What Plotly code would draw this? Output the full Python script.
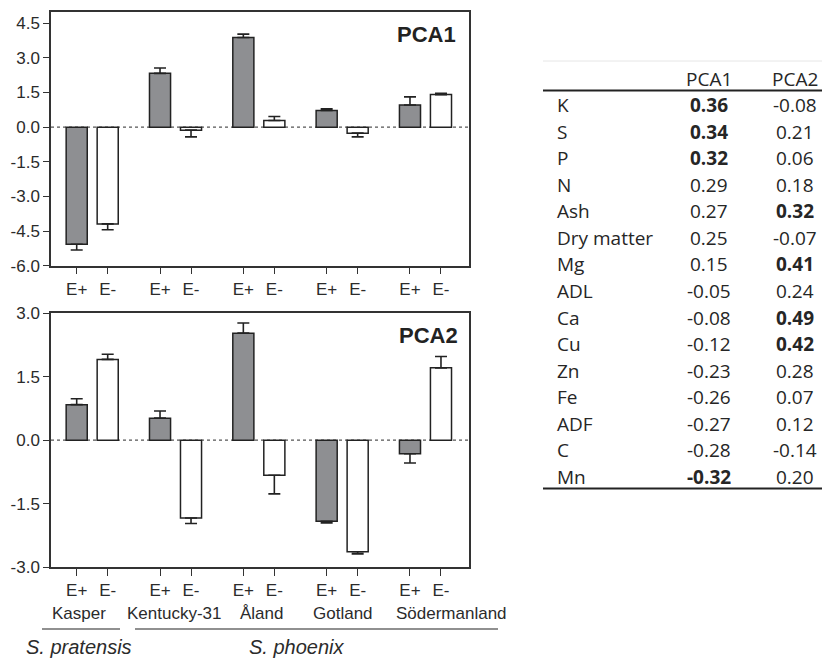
import plotly.graph_objects as go

# ---------------- data ----------------
groups = ["Kasper", "Kentucky-31", "Åland", "Gotland", "Södermanland"]
treatments = ["E+", "E-"]

pca1_eplus = [-5.07, 2.33, 3.88, 0.72, 0.96]
pca1_eplus_err = [0.25, 0.23, 0.15, 0.07, 0.35]
pca1_eminus = [-4.19, -0.13, 0.29, -0.26, 1.41]
pca1_eminus_err = [0.25, 0.29, 0.17, 0.16, 0.06]

pca2_eplus = [0.84, 0.52, 2.53, -1.92, -0.32]
pca2_eplus_err = [0.14, 0.17, 0.24, 0.04, 0.22]
pca2_eminus = [1.91, -1.84, -0.83, -2.64, 1.71]
pca2_eminus_err = [0.12, 0.13, 0.44, 0.05, 0.27]

pca1_ticks = [-6.0, -4.5, -3.0, -1.5, 0.0, 1.5, 3.0, 4.5]
pca2_ticks = [-3.0, -1.5, 0.0, 1.5, 3.0]

species = ["S. pratensis", "S. phoenix"]

table_vars = ["K", "S", "P", "N", "Ash", "Dry matter", "Mg", "ADL", "Ca", "Cu",
              "Zn", "Fe", "ADF", "C", "Mn"]
table_pca1 = ["0.36", "0.34", "0.32", "0.29", "0.27", "0.25", "0.15", "-0.05",
              "-0.08", "-0.12", "-0.23", "-0.26", "-0.27", "-0.28", "-0.32"]
table_pca2 = ["-0.08", "0.21", "0.06", "0.18", "0.32", "-0.07", "0.41", "0.24",
              "0.49", "0.42", "0.28", "0.07", "0.12", "-0.14", "0.20"]
bold_pca1 = [True, True, True, False, False, False, False, False,
             False, False, False, False, False, False, True]
bold_pca2 = [False, False, False, False, True, False, True, False,
             True, True, False, False, False, False, False]

# ---------------- layout constants ----------------
W, H = 840, 659
GROUP_STEP = 2.688
PAIR_STEP = 1.0
BAR_W = 0.68
X_RANGE = [-0.829, 12.656]
GRAY = "#8e8f92"
EDGE = "#222222"
TXT = "#2b2b2b"
FONT = "Liberation Sans, Arial, sans-serif"
TFONT = "Open Sans, Lato, sans-serif"


def px(xp):
    return xp / W


def py(yp):
    return 1 - yp / H


pos_eplus = [i * GROUP_STEP for i in range(len(groups))]
pos_eminus = [i * GROUP_STEP + PAIR_STEP for i in range(len(groups))]


def err_dict(vals, errs):
    up = [e if v >= 0 else 0 for v, e in zip(vals, errs)]
    dn = [e if v < 0 else 0 for v, e in zip(vals, errs)]
    return dict(type="data", symmetric=False, array=up, arrayminus=dn,
                color=EDGE, thickness=1.6, width=6)


fig = go.Figure()
panels = [
    ("x", "y", pca1_eplus, pca1_eplus_err, pca1_eminus, pca1_eminus_err),
    ("x2", "y2", pca2_eplus, pca2_eplus_err, pca2_eminus, pca2_eminus_err),
]
for xa, ya, ep, epe, em, eme in panels:
    fig.add_trace(go.Bar(x=pos_eplus, y=ep, width=BAR_W, xaxis=xa, yaxis=ya,
                         marker=dict(color=GRAY, line=dict(color=EDGE, width=1.5)),
                         error_y=err_dict(ep, epe), showlegend=False, name="E+"))
    fig.add_trace(go.Bar(x=pos_eminus, y=em, width=BAR_W, xaxis=xa, yaxis=ya,
                         marker=dict(color="white", line=dict(color=EDGE, width=1.5)),
                         error_y=err_dict(em, eme), showlegend=False, name="E-"))

tickpos = []
ticktxt = []
for a, b in zip(pos_eplus, pos_eminus):
    tickpos += [a, b]
    ticktxt += treatments

xcommon = dict(range=X_RANGE, tickvals=tickpos, ticktext=ticktxt, ticks="outside",
               ticklen=7, tickwidth=1.3, tickcolor="#333", showline=True, mirror=True,
               linecolor="#333", linewidth=1.5, showgrid=False, zeroline=False,
               automargin=False,
               tickfont=dict(family=FONT, size=17, color=TXT),
               domain=[px(51), px(469)])
ycommon = dict(ticks="outside", ticklen=6, tickwidth=1.3, tickcolor="#333",
               showline=True, mirror=True, linecolor="#333", linewidth=1.5,
               showgrid=False, zeroline=False, automargin=False,
               tickfont=dict(family=FONT, size=17, color=TXT))

fig.update_layout(
    width=W, height=H, margin=dict(l=0, r=0, t=0, b=0, pad=0, autoexpand=False),
    paper_bgcolor="white", plot_bgcolor="white", barmode="overlay",
    xaxis=dict(xcommon, anchor="y"),
    xaxis2=dict(xcommon, anchor="y2"),
    yaxis=dict(ycommon, range=[-6, 5], tickvals=pca1_ticks,
               ticktext=[f"{v:.1f}" for v in pca1_ticks],
               domain=[py(265.7), py(11.7)], anchor="x"),
    yaxis2=dict(ycommon, range=[-3, 3], tickvals=pca2_ticks,
                ticktext=[f"{v:.1f}" for v in pca2_ticks],
                domain=[py(567), py(313.3)], anchor="x2"),
)

shapes = []
# zero lines
for xa, ya in [("x", "y"), ("x2", "y2")]:
    shapes.append(dict(type="line", xref=f"{xa} domain", x0=0, x1=1, yref=ya, y0=0, y1=0,
                       layer="below", line=dict(color="#555", width=1.3, dash="dot")))

annotations = []
# panel labels
annotations.append(dict(text="<b>PCA1</b>", x=px(458), y=py(34.5), xref="paper", yref="paper",
                        xanchor="right", yanchor="middle", showarrow=False,
                        font=dict(family=FONT, size=22, color="#222")))
annotations.append(dict(text="<b>PCA2</b>", x=px(460), y=py(335.5), xref="paper", yref="paper",
                        xanchor="right", yanchor="middle", showarrow=False,
                        font=dict(family=FONT, size=22, color="#222")))

# group names
group_label_px = [78.5, 174.5, 261.5, 343, 451.7]
for g, gx in zip(groups, group_label_px):
    annotations.append(dict(text=g, x=px(gx), y=py(613), xref="paper", yref="paper",
                            xanchor="center", yanchor="middle", showarrow=False,
                            font=dict(family=FONT, size=17, color=TXT)))
# species brackets
species_line_px = [(42, 120), (135, 498)]
species_label_px = [79, 297]
for s, (a, b), sx in zip(species, species_line_px, species_label_px):
    shapes.append(dict(type="line", xref="paper", yref="paper", x0=px(a), x1=px(b),
                       y0=py(629), y1=py(629), line=dict(color="#222", width=1.2)))
    annotations.append(dict(text=f"<i>{s}</i>", x=px(sx), y=py(647), xref="paper", yref="paper",
                            xanchor="center", yanchor="middle", showarrow=False,
                            font=dict(family=FONT, size=20, color=TXT)))

# ---------------- table ----------------
T_LEFT, T_RIGHT = 543, 822
COL_NAME, COL_P1, COL_P2 = 555, 709, 795
HEAD_Y, ROW0_Y, ROW_H = 79, 105, 26.57
shapes.append(dict(type="line", xref="paper", yref="paper", x0=px(T_LEFT), x1=px(T_RIGHT),
                   y0=py(61), y1=py(61), line=dict(color="#e6e6e6", width=1)))
shapes.append(dict(type="line", xref="paper", yref="paper", x0=px(T_LEFT), x1=px(T_RIGHT),
                   y0=py(90.5), y1=py(90.5), line=dict(color="#222", width=2.2)))
shapes.append(dict(type="line", xref="paper", yref="paper", x0=px(T_LEFT), x1=px(T_RIGHT),
                   y0=py(488.5), y1=py(488.5), line=dict(color="#222", width=2.2)))

tfont = dict(family=TFONT, size=19, color="#262626")
for txt, cx in [("PCA1", COL_P1), ("PCA2", COL_P2)]:
    annotations.append(dict(text=txt, x=px(cx), y=py(HEAD_Y), xref="paper", yref="paper",
                            xanchor="center", yanchor="middle", showarrow=False, font=tfont))
for i, (v, a, b, ba, bb) in enumerate(zip(table_vars, table_pca1, table_pca2, bold_pca1, bold_pca2)):
    yy = py(ROW0_Y + i * ROW_H)
    annotations.append(dict(text=v, x=px(COL_NAME), y=yy, xref="paper", yref="paper",
                            xanchor="left", yanchor="middle", showarrow=False, font=tfont))
    annotations.append(dict(text=f"<b>{a}</b>" if ba else a, x=px(COL_P1), y=yy, xref="paper",
                            yref="paper", xanchor="center", yanchor="middle", showarrow=False,
                            font=tfont))
    annotations.append(dict(text=f"<b>{b}</b>" if bb else b, x=px(COL_P2), y=yy, xref="paper",
                            yref="paper", xanchor="center", yanchor="middle", showarrow=False,
                            font=tfont))

fig.update_layout(shapes=shapes, annotations=annotations)
fig.write_html(
    "out.html",
    config={"displayModeBar": False},
    post_script="document.body.style.margin='0';document.body.style.overflow='hidden';",
)
